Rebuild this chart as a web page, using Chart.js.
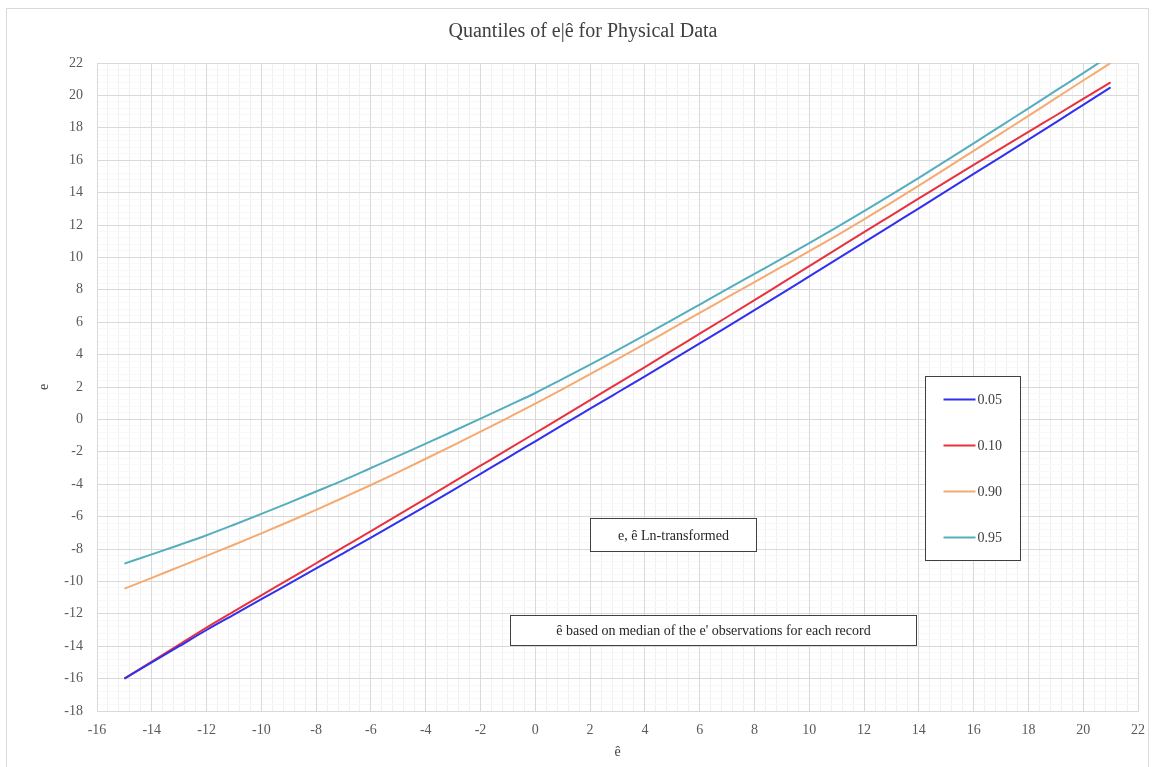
<!DOCTYPE html>
<html>
<head>
<meta charset="utf-8">
<title>Quantiles of e|ê for Physical Data</title>
<script src="https://cdn.jsdelivr.net/npm/chart.js@4/dist/chart.umd.min.js"></script>
<style>
  html, body { margin: 0; padding: 0; background: #fff; }
  #chart { display: block; }
</style>
</head>
<body>
<canvas id="chart" width="1152" height="767"></canvas>
<script>
// ê values (x axis)
const xs = [-15, -14, -13, -12, -11, -10, -9, -8, -7, -6, -5, -4, -3, -2, -1, 0, 1, 2, 3, 4, 5,
  6, 7, 8, 9, 10, 11, 12, 13, 14, 15, 16, 17, 18, 19, 20, 21];

// quantiles of e given ê
const q05 = [-16.0, -15.0, -14.0, -13.0, -12.05, -11.1, -10.15, -9.2, -8.25, -7.3, -6.33, -5.35, -4.36,
  -3.36, -2.36, -1.35, -0.34, 0.66, 1.66, 2.66, 3.67, 4.69, 5.71, 6.74, 7.78, 8.83, 9.88, 10.93, 11.98,
  13.03, 14.09, 15.15, 16.21, 17.27, 18.34, 19.42, 20.5];
const q10 = [-16.0, -14.95, -13.9, -12.85, -11.85, -10.86, -9.87, -8.88, -7.89, -6.9, -5.9, -4.89, -3.87,
  -2.86, -1.85, -0.84, 0.17, 1.19, 2.21, 3.23, 4.26, 5.29, 6.32, 7.36, 8.41, 9.46, 10.51, 11.56, 12.6,
  13.64, 14.68, 15.71, 16.73, 17.75, 18.76, 19.78, 20.8];
const q90 = [-10.45, -9.78, -9.1, -8.42, -7.74, -7.04, -6.32, -5.58, -4.82, -4.05, -3.25, -2.43, -1.6,
  -0.76, 0.1, 0.97, 1.87, 2.79, 3.72, 4.66, 5.62, 6.58, 7.53, 8.48, 9.43, 10.38, 11.35, 12.35, 13.38,
  14.43, 15.5, 16.58, 17.66, 18.74, 19.83, 20.92, 22.0];
const q95 = [-8.9, -8.33, -7.75, -7.15, -6.5, -5.83, -5.15, -4.45, -3.75, -3.0, -2.25, -1.5, -0.73,
  0.05, 0.84, 1.63, 2.5, 3.38, 4.28, 5.2, 6.14, 7.09, 8.04, 8.98, 9.92, 10.88, 11.86, 12.85, 13.87,
  14.91, 15.97, 17.04, 18.12, 19.2, 20.29, 21.38, 22.48];

const seriesLabels = ['0.05', '0.10', '0.90', '0.95'];
const seriesValues = [q05, q10, q90, q95];
const seriesColors = ['#3030f0', '#e8323e', '#f5aa72', '#55aebe'];

// axis ranges
const xMin = -16, xMax = 22, xStep = 2;
const yMin = -18, yMax = 22, yStep = 2;
const minorStep = 0.4;

const titleText = 'Quantiles of e|ê for Physical Data';
const xTitle = 'ê';
const yTitle = 'e';

// text boxes, anchored in data units
const notes = [
  { text: 'e, ê Ln-transformed', x0: 2.0, x1: 8.05, y0: -6.1, y1: -8.15 },
  { text: "ê based on median of the e' observations for each record", x0: -0.93, x1: 13.9, y0: -12.05, y1: -13.95 },
];
const legendBox = { x0: 14.22, x1: 17.7, y0: 2.7, y1: -8.7 };

const serif = "'Liberation Serif', 'Times New Roman', serif";
const textColor = '#404040';

// frame round the whole chart, plus the notes and the legend box
const decorations = {
  id: 'decorations',
  beforeDraw(chart) {
    const { ctx, width, height } = chart;
    ctx.save();
    ctx.fillStyle = '#fff';
    ctx.fillRect(0, 0, width, height);
    ctx.strokeStyle = '#d9d9d9';
    ctx.lineWidth = 1;
    ctx.strokeRect(6.5, 8.5, width - 10, height - 6);
    ctx.restore();
  },
  afterDatasetsDraw(chart) {
    const { ctx } = chart;
    const xs_ = chart.scales.x, ys_ = chart.scales.y;
    ctx.save();
    ctx.font = `14px ${serif}`;
    ctx.textBaseline = 'middle';

    notes.forEach(n => {
      const l = Math.round(xs_.getPixelForValue(n.x0)) + 0.5;
      const r = Math.round(xs_.getPixelForValue(n.x1)) + 0.5;
      const t = Math.round(ys_.getPixelForValue(n.y0)) + 0.5;
      const b = Math.round(ys_.getPixelForValue(n.y1)) + 0.5;
      ctx.fillStyle = '#fff';
      ctx.fillRect(l, t, r - l, b - t);
      ctx.strokeStyle = '#404040';
      ctx.lineWidth = 1;
      ctx.strokeRect(l, t, r - l, b - t);
      ctx.fillStyle = '#262626';
      ctx.textAlign = 'center';
      ctx.fillText(n.text, (l + r) / 2, (t + b) / 2 + 1);
    });

    // legend
    const l = Math.round(xs_.getPixelForValue(legendBox.x0)) + 0.5;
    const r = Math.round(xs_.getPixelForValue(legendBox.x1)) + 0.5;
    const t = Math.round(ys_.getPixelForValue(legendBox.y0)) + 0.5;
    const b = Math.round(ys_.getPixelForValue(legendBox.y1)) + 0.5;
    ctx.fillStyle = '#fff';
    ctx.fillRect(l, t, r - l, b - t);
    ctx.strokeStyle = '#404040';
    ctx.strokeRect(l, t, r - l, b - t);
    const rowH = (b - t) / seriesLabels.length;
    seriesLabels.forEach((lab, i) => {
      const cy = t + rowH * (i + 0.5);
      ctx.strokeStyle = seriesColors[i];
      ctx.lineWidth = 2;
      ctx.beginPath();
      ctx.moveTo(l + 18, cy);
      ctx.lineTo(l + 50, cy);
      ctx.stroke();
      ctx.fillStyle = textColor;
      ctx.textAlign = 'left';
      ctx.fillText(lab, l + 52, cy + 1);
    });
    ctx.restore();
  }
};

new Chart(document.getElementById('chart'), {
  type: 'line',
  data: {
    datasets: seriesLabels.map((lab, i) => ({
      label: lab,
      data: xs.map((x, j) => ({ x, y: seriesValues[i][j] })),
      borderColor: seriesColors[i],
      backgroundColor: seriesColors[i],
      borderWidth: 2,
      pointRadius: 0,
      cubicInterpolationMode: 'monotone',
    })),
  },
  options: {
    responsive: false,
    animation: false,
    layout: { padding: { left: 28, right: 14, top: 0, bottom: 4 } },
    plugins: {
      legend: { display: false },
      tooltip: { enabled: false },
      title: {
        display: true,
        text: titleText,
        color: textColor,
        font: { family: serif, size: 20, weight: 'normal' },
        padding: { top: 20, bottom: 19 },
      },
    },
    scales: {
      xm: {
        type: 'linear', position: 'bottom', min: xMin, max: xMax,
        ticks: { display: false, stepSize: minorStep, autoSkip: false },
        grid: { color: '#f0f0f0', drawTicks: false, z: -2 },
        border: { display: false },
        afterFit: s => { s.height = 0; },
      },
      ym: {
        type: 'linear', position: 'left', min: yMin, max: yMax,
        ticks: { display: false, stepSize: minorStep, autoSkip: false },
        grid: { color: '#f8f8f8', drawTicks: false, z: -2 },
        border: { display: false },
        afterFit: s => { s.width = 0; },
      },
      x: {
        type: 'linear', position: 'bottom', min: xMin, max: xMax,
        ticks: { stepSize: xStep, color: '#595959', padding: 11, font: { family: serif, size: 14 } },
        grid: { color: '#d9d9d9', drawTicks: false },
        border: { color: '#d9d9d9' },
        title: {
          display: true, text: xTitle, color: textColor,
          font: { family: serif, size: 14 }, padding: { top: 2, bottom: 2 },
        },
        afterFit: s => { s.height = 52; s.paddingRight = 0; },
      },
      y: {
        type: 'linear', position: 'left', min: yMin, max: yMax,
        ticks: { stepSize: yStep, color: '#595959', padding: 14, font: { family: serif, size: 14 } },
        grid: { color: '#d9d9d9', drawTicks: false },
        border: { color: '#d9d9d9' },
        title: {
          display: true, text: yTitle, color: textColor,
          font: { family: serif, size: 14 }, padding: { top: 8, bottom: 0 },
        },
        afterFit: s => { s.width = 69; },
      },
    },
  },
  plugins: [decorations],
});
</script>
</body>
</html>
